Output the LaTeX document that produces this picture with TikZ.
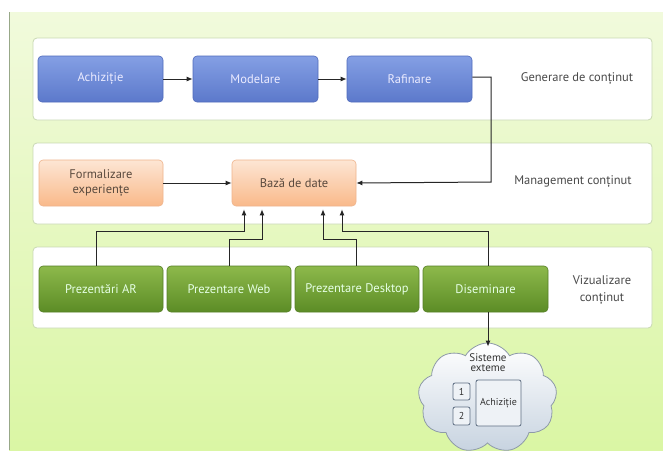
\documentclass[tikz,border=0pt]{standalone}
\usepackage{fontspec}
\setmainfont{PT Sans}
\usetikzlibrary{shapes.symbols,arrows.meta}
\definecolor{bgtop}{HTML}{F1FADC}
\definecolor{bgbot}{HTML}{DAF6A4}
\definecolor{panelborder}{HTML}{C9D8B4}
\definecolor{bluetop}{HTML}{849FE4}
\definecolor{bluebot}{HTML}{5C79CB}
\definecolor{blueedge}{HTML}{4F6ABB}
\definecolor{orgtop}{HTML}{FDE6D4}
\definecolor{orgbot}{HTML}{F9B98A}
\definecolor{orgedge}{HTML}{EFB48C}
\definecolor{grntop}{HTML}{8DB94B}
\definecolor{grnbot}{HTML}{5C8C26}
\definecolor{grnedge}{HTML}{557F25}
\definecolor{labelgray}{HTML}{4A4A4A}
\definecolor{orgtext}{HTML}{5A4A3E}
\definecolor{cloudbot}{HTML}{C7D3E0}
\definecolor{cloudedge}{HTML}{8E9AA8}
\definecolor{inneredge}{HTML}{5E6E82}
\definecolor{leftline}{HTML}{98A888}
\tikzset{
  panel/.style={draw=panelborder, fill=white, rounded corners=4pt, line width=0.8pt},
  box/.style={rounded corners=4pt, minimum height=46pt, inner sep=2pt, align=center, font=\fontsize{12.5}{15}\selectfont, line width=0.6pt},
  bluebox/.style={box, top color=bluetop, bottom color=bluebot, draw=blueedge, text=white!92!blue, minimum width=125pt},
  orgbox/.style={box, top color=orgtop, bottom color=orgbot, draw=orgedge, text=orgtext, minimum width=124pt},
  grnbox/.style={box, top color=grntop, bottom color=grnbot, draw=grnedge, text=white!90!green, minimum width=124pt},
  lbl/.style={text=labelgray, align=center, font=\fontsize{12.5}{17}\selectfont},
  arr/.style={draw=black!85, line width=1pt, -{Latex[length=6pt,width=5pt]}},
  inner/.style={draw=inneredge, fill=white!70!cloudbot, rounded corners=2pt, line width=0.8pt, inner sep=0pt, font=\fontsize{10}{11}\selectfont, text=black!80},
}
\begin{document}
\begin{tikzpicture}[x=1pt,y=-1pt]
\useasboundingbox (0,0) rectangle (663,450);
% background
\fill[white] (0,0) rectangle (663,450);
\shade[top color=bgtop, bottom color=bgbot] (9,12) rectangle (663,450);
\draw[leftline, line width=1.2pt] (9.6,12) -- (9.6,450);
% panels
\draw[panel] (33,38) rectangle (652,120);
\draw[panel] (33,143) rectangle (652,224);
\draw[panel] (33,247) rectangle (652,328);
% row 1
\node[bluebox] (acq) at (100.5,79) {Achiziție};
\node[bluebox] (mod) at (255.5,79) {Modelare};
\node[bluebox] (raf) at (409.5,79) {Rafinare};
\node[lbl] (l1) at (577,79) {Generare de conținut};
% row 2
\node[orgbox] (form) at (101,183) {Formalizare\\experiențe};
\node[orgbox] (db) at (294,183) {Bază de date};
\node[lbl] (l2) at (573,182) {Management conținut};
% row 3
\node[grnbox] (ar) at (101,289) {Prezentări AR};
\node[grnbox] (web) at (229,289) {Prezentare Web};
\node[grnbox] (desk) at (357,289) {Prezentare Desktop};
\node[grnbox, minimum width=125pt] (dis) at (485.5,289) {Diseminare};
\node[lbl] (l3) at (602,290) {Vizualizare\\conținut};
% cloud
\node[cloud, cloud puffs=9, cloud puff arc=120, aspect=1.25, minimum width=139pt, minimum height=110pt, top color=white, bottom color=cloudbot, draw=cloudedge, line width=0.8pt, inner sep=0pt] (cl) at (487.5,398) {};
\node[align=center, font=\fontsize{11}{10}\selectfont, text=black!80] (sis) at (488,363) {Sisteme\\exteme};
\node[inner, minimum width=17pt, minimum height=17pt] (b1) at (461.5,391.5) {1};
\node[inner, minimum width=17pt, minimum height=18pt] (b2) at (461.5,416) {2};
\node[inner, minimum width=45pt, minimum height=46pt] (b3) at (498.5,403) {Achiziție};
% connectors
\draw[arr] (acq) -- (mod);
\draw[arr] (mod) -- (raf);
\draw[arr] ([yshift=2pt]raf.east) -| (491,182) -- (db.east);
\draw[arr] (form) -- (db);
\draw[arr] ([xshift=-5pt]ar.north) |- ([xshift=-50pt,yshift=-25pt]db.south) -- ([xshift=-50pt,yshift=-3pt]db.south);
\draw[arr] (web.north) |- ([xshift=-32pt,yshift=-33pt]db.south) -- ([xshift=-32pt,yshift=-3pt]db.south);
\draw[arr] ([xshift=-1pt]desk.north) |- ([xshift=29pt,yshift=-33pt]db.south) -- ([xshift=29pt,yshift=-3pt]db.south);
\draw[arr] ([xshift=2.5pt]dis.north) |- ([xshift=48pt,yshift=-25pt]db.south) -- ([xshift=48pt,yshift=-3pt]db.south);
\draw[arr] ([xshift=2.5pt]dis.south) -- ([xshift=0.5pt,yshift=-4pt]cl.north);
\end{tikzpicture}
\end{document}
